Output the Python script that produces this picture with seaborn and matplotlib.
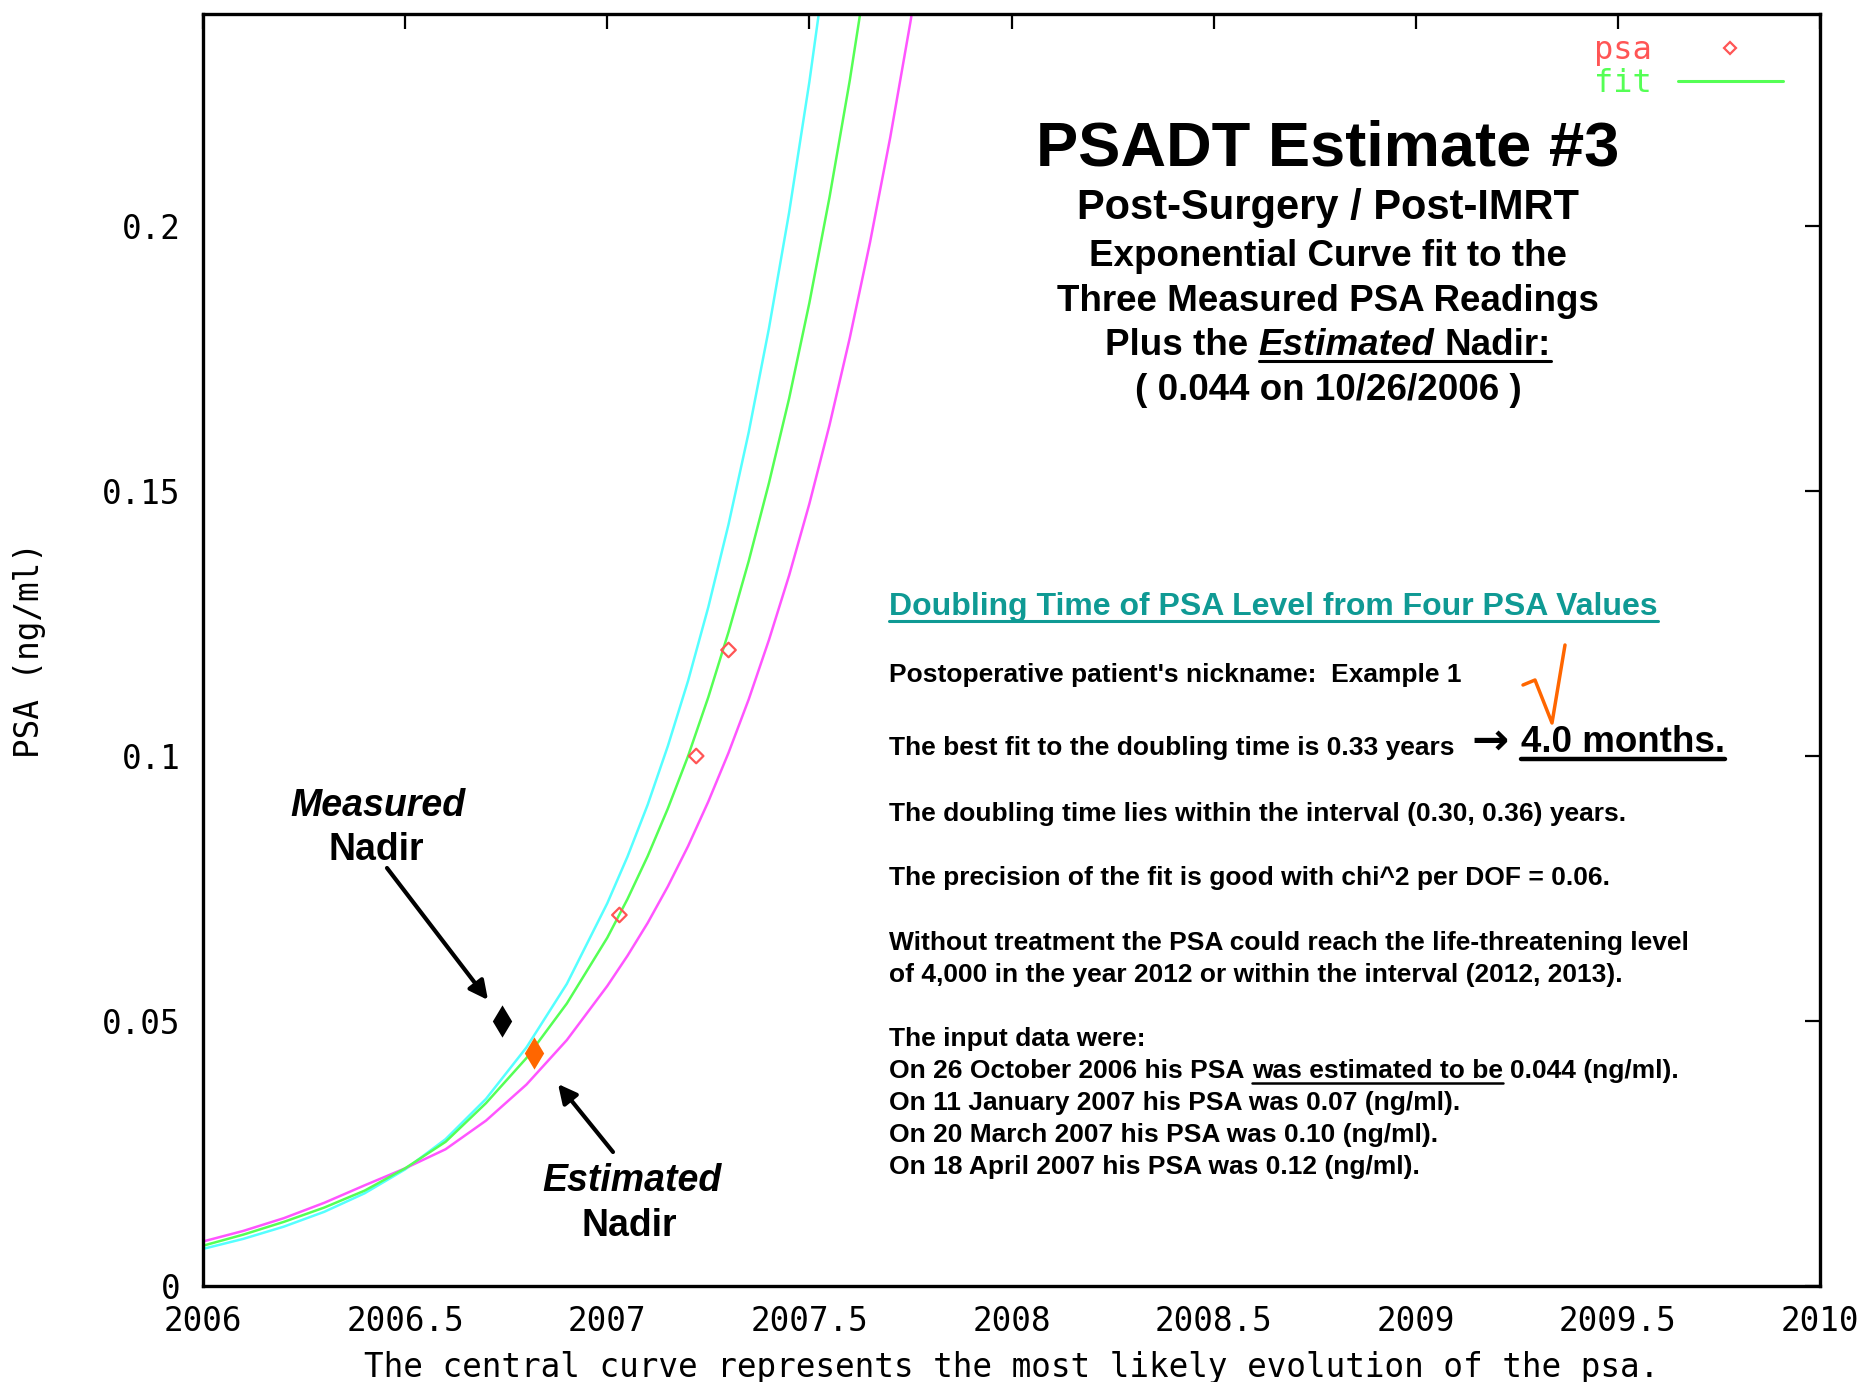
import matplotlib
matplotlib.use('Agg')
import seaborn as sns
import matplotlib.pyplot as plt
from matplotlib.lines import Line2D

# fitted curves (year, PSA ng/ml)
years = [2006.0, 2006.1, 2006.2, 2006.3, 2006.4, 2006.5, 2006.6, 2006.7, 2006.8, 2006.9,
         2007.0, 2007.05, 2007.1, 2007.15, 2007.2, 2007.25, 2007.3, 2007.35, 2007.4,
         2007.45, 2007.5, 2007.55, 2007.6, 2007.65, 2007.7, 2007.75, 2007.8]
fast_psa = [0.0070, 0.0089, 0.0112, 0.0140, 0.0175, 0.0220, 0.0277, 0.0353, 0.0450, 0.0570,
            0.0722, 0.0810, 0.0908, 0.1019, 0.1142, 0.1281, 0.1437, 0.1611, 0.1807,
            0.2026, 0.2272, 0.2548, 0.2860, 0.3210, 0.3600, 0.4040, 0.4530]
fit_psa = [0.0076, 0.0097, 0.0121, 0.0148, 0.0180, 0.0222, 0.0272, 0.0345, 0.0430, 0.0533,
           0.0657, 0.0730, 0.0811, 0.0901, 0.1000, 0.1111, 0.1234, 0.1368, 0.1515,
           0.1675, 0.1855, 0.2055, 0.2275, 0.2520, 0.2790, 0.3090, 0.3420]
slow_psa = [0.0084, 0.0104, 0.0128, 0.0157, 0.0190, 0.0222, 0.0258, 0.0312, 0.0380, 0.0464,
            0.0566, 0.0623, 0.0685, 0.0754, 0.0830, 0.0914, 0.1006, 0.1107, 0.1219,
            0.1341, 0.1476, 0.1625, 0.1789, 0.1969, 0.2167, 0.2385, 0.2626]

# measured psa readings
psa_t = [2007.03, 2007.22, 2007.30]
psa_v = [0.07, 0.10, 0.12]
measured_nadir = (2006.74, 0.05)
estimated_nadir = (2006.82, 0.044)

xticks = [2006, 2006.5, 2007, 2007.5, 2008, 2008.5, 2009, 2009.5, 2010]
xlabels = ['2006', '2006.5', '2007', '2007.5', '2008', '2008.5', '2009', '2009.5', '2010']
yticks = [0, 0.05, 0.1, 0.15, 0.2]
ylabels = ['0', '0.05', '0.1', '0.15', '0.2']

sns.set_style('white')
plt.rcParams['font.family'] = ['Liberation Sans', 'DejaVu Sans']
plt.rcParams['text.color'] = 'black'
plt.rcParams['axes.labelcolor'] = 'black'
plt.rcParams['xtick.color'] = 'black'
plt.rcParams['ytick.color'] = 'black'
MONO = 'DejaVu Sans Mono'
MONO_SIZE = 23.5

W, H = 1862, 1382
fig = plt.figure(figsize=(W / 100, H / 100), dpi=100)
ax = fig.add_axes([203 / W, 1 - 1286 / H, (1820 - 203) / W, (1286 - 14) / H])

sns.lineplot(x=years, y=fast_psa, color='#55ffff', lw=1.8, ax=ax, legend=False)
sns.lineplot(x=years, y=slow_psa, color='#ff55ff', lw=1.8, ax=ax, legend=False)
sns.lineplot(x=years, y=fit_psa, color='#55ff55', lw=1.8, ax=ax, legend=False)
sns.scatterplot(x=psa_t, y=psa_v, marker='D', s=55, facecolor='none',
                edgecolor='#ff5555', linewidth=1.6, ax=ax, zorder=5)
sns.scatterplot(x=[measured_nadir[0]], y=[measured_nadir[1]], marker='d', s=270,
                color='black', linewidth=0, ax=ax, zorder=6)
sns.scatterplot(x=[estimated_nadir[0]], y=[estimated_nadir[1]], marker='d', s=270,
                color='#ff6600', linewidth=0, ax=ax, zorder=6)

ax.set_xlim(2006, 2010)
ax.set_ylim(0, 0.24)
ax.set_xticks(xticks, xlabels)
ax.set_yticks(yticks, ylabels)
ax.tick_params(direction='in', length=11, width=1.6, top=True, right=True,
               labelsize=MONO_SIZE, colors='black')
ax.tick_params(axis='x', pad=14)
ax.tick_params(axis='y', pad=16)
for lbl in ax.get_xticklabels() + ax.get_yticklabels():
    lbl.set_fontfamily(MONO)
for sp in ax.spines.values():
    sp.set_linewidth(2.4)
    sp.set_color('black')

ax.set_xlabel('The central curve represents the most likely evolution of the psa.',
              fontfamily=MONO, fontsize=MONO_SIZE, va='center')
ax.xaxis.set_label_coords(0.5, -(1367 - 1286) / 1272)
ax.set_ylabel('PSA (ng/ml)', fontfamily=MONO, fontsize=MONO_SIZE, va='center')
ax.yaxis.set_label_coords((30 - 203) / 1617, 0.5)

# gnuplot style key: label then sample
handles = [Line2D([], [], ls='none', marker='D', ms=6.5, mfc='none', mec='#ff5555', mew=1.6),
           Line2D([], [], color='#55ff55', lw=2.2)]
leg = ax.legend(handles, ['psa', 'fit'], loc='upper right', markerfirst=False,
                frameon=False, prop={'family': MONO, 'size': 23},
                labelcolor=['#ff5555', '#55ff55'], handlelength=3.3,
                bbox_to_anchor=(0.995, 1.006), labelspacing=0.05, handletextpad=0.8)


def fy(y):
    return 1 - y / H


def runs(parts, x, y, size, align='left', color='black', ul_off=5, ul_lw=1.8):
    rend = fig.canvas.get_renderer()
    gap = size * 0.278 * 100 / 72
    items = []
    for s, style, ul in parts:
        t = fig.text(0, fy(y), s, fontsize=size, fontweight='bold', fontstyle=style,
                     color=color, va='baseline', ha='left')
        items.append([t, t.get_window_extent(rend).width, ul])
    total = sum(w for _, w, _ in items) + gap * (len(items) - 1)
    cur = x - total / 2 if align == 'center' else x
    for i, (t, w, ul) in enumerate(items):
        t.set_x(cur / W)
        if ul:
            end = cur + w
            if i + 1 < len(items) and items[i + 1][2]:
                end += gap
            fig.add_artist(Line2D([cur / W, end / W], [fy(y + ul_off)] * 2,
                                  color=color, lw=ul_lw))
        cur += w + gap


# title block
cx = 1328
fig.text(cx / W, fy(165), 'PSADT Estimate #3', fontsize=45.5, fontweight='bold', ha='center', va='baseline')
fig.text(cx / W, fy(219), 'Post-Surgery / Post-IMRT', fontsize=30, fontweight='bold', ha='center', va='baseline')
fig.text(cx / W, fy(266), 'Exponential Curve fit to the', fontsize=26.5, fontweight='bold', ha='center', va='baseline')
fig.text(cx / W, fy(311), 'Three Measured PSA Readings', fontsize=26.5, fontweight='bold', ha='center', va='baseline')
runs([('Plus the', 'normal', False), ('Estimated', 'italic', True), ('Nadir:', 'normal', True)],
     cx, 355, 26.5, align='center', ul_off=6, ul_lw=2.2)
fig.text(cx / W, fy(400), '( 0.044 on 10/26/2006 )', fontsize=26.5, fontweight='bold', ha='center', va='baseline')

# doubling time block
tx = 889
runs([('Doubling Time of PSA Level from Four PSA Values', 'normal', True)], tx, 615, 23,
     color='#0f9a94', ul_off=6, ul_lw=2.2)
body = [
    (682, "Postoperative patient's nickname:  Example 1"),
    (755, 'The best fit to the doubling time is 0.33 years'),
    (821, 'The doubling time lies within the interval (0.30, 0.36) years.'),
    (885, 'The precision of the fit is good with chi^2 per DOF = 0.06.'),
    (950, 'Without treatment the PSA could reach the life-threatening level'),
    (982, 'of 4,000 in the year 2012 or within the interval (2012, 2013).'),
    (1046, 'The input data were:'),
    (1110, 'On 11 January 2007 his PSA was 0.07 (ng/ml).'),
    (1142, 'On 20 March 2007 his PSA was 0.10 (ng/ml).'),
    (1174, 'On 18 April 2007 his PSA was 0.12 (ng/ml).'),
]
for y, s in body:
    fig.text(tx / W, fy(y), s, fontsize=19, fontweight='bold', ha='left', va='baseline')
runs([('On 26 October 2006 his PSA', 'normal', False), ('was estimated to be', 'normal', True),
      ('0.044 (ng/ml).', 'normal', False)], tx, 1078, 19, ul_off=5, ul_lw=1.8)

fig.text(1490 / W, fy(741), '\u2192', fontsize=32, fontweight='bold', family='DejaVu Sans',
         ha='center', va='center')
runs([('4.0 months.', 'normal', True)], 1521, 752, 26.5, ul_off=7, ul_lw=3.2)
fig.add_artist(Line2D([1523 / W, 1535 / W, 1552 / W, 1565 / W],
                      [fy(685), fy(680), fy(723), fy(645)], color='#ff6600', lw=2.5))

# nadir callouts
runs([('Measured', 'italic', False)], 378, 816, 27, align='center')
runs([('Nadir', 'normal', False)], 376, 860, 27, align='center')
runs([('Estimated', 'italic', False)], 632, 1191, 27, align='center')
runs([('Nadir', 'normal', False)], 629, 1236, 27, align='center')
arrow = dict(arrowstyle='-|>', lw=3, color='black', mutation_scale=28, shrinkA=0, shrinkB=0)
ax.annotate('', xy=(488 / W, fy(1000)), xytext=(387 / W, fy(868)),
            xycoords='figure fraction', textcoords='figure fraction', arrowprops=arrow)
ax.annotate('', xy=(558 / W, fy(1084)), xytext=(613 / W, fy(1152)),
            xycoords='figure fraction', textcoords='figure fraction', arrowprops=arrow)

fig.savefig('out.png', dpi=100, facecolor='white')
